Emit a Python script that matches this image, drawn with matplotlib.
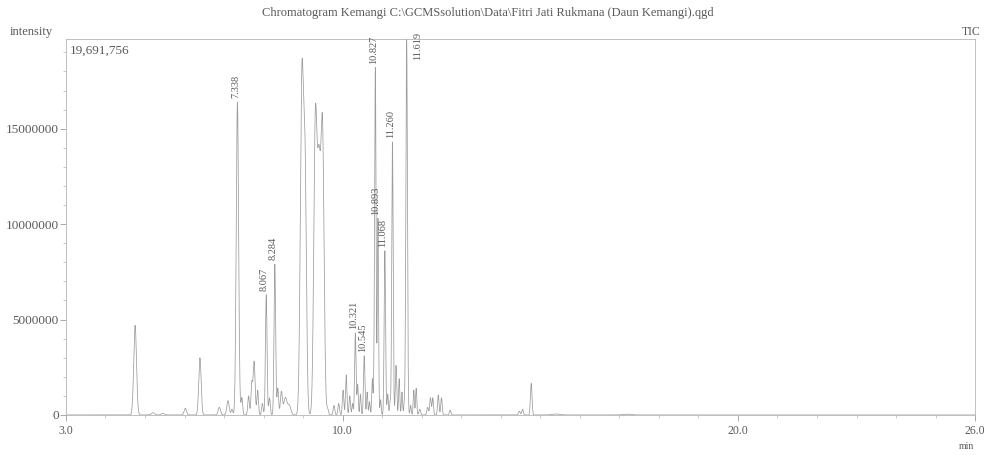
#!/usr/bin/env python3
"""GC-MS total ion chromatogram of kemangi leaf extract, redrawn from the printout."""
import numpy as np
import matplotlib
matplotlib.use("Agg")
import matplotlib.pyplot as plt
from matplotlib.ticker import MultipleLocator

plt.rcParams.update({
    "font.family": "serif",
    "font.serif": ["Liberation Serif", "DejaVu Serif"],
    "font.size": 8,
})

TITLE = r"Chromatogram Kemangi C:\GCMSsolution\Data\Fitri Jati Rukmana (Daun Kemangi).qgd"
MAX_INTENSITY = 19691756

# peak table: retention time (min), apex height (counts), sigma (min)
peak_rt = [4.75, 5.20, 5.45, 6.02, 6.39, 6.88, 7.10, 7.20, 7.338, 7.45,
           7.62, 7.70, 7.76, 7.85, 7.97, 8.067, 8.15, 8.284, 8.36, 8.45,
           8.55, 8.65, 8.97, 9.05, 9.31, 9.40, 9.49, 9.62, 9.78, 9.90, 10.01,
           10.09, 10.18, 10.25, 10.321, 10.38, 10.45, 10.545, 10.62, 10.68, 10.75,
           10.79, 10.827, 10.893, 10.96, 11.068, 11.14, 11.20, 11.260, 11.35, 11.43,
           11.50, 11.56, 11.619, 11.72, 11.80, 11.86, 11.95, 12.15, 12.22, 12.28,
           12.42, 12.50, 12.72, 14.47, 14.55, 14.77, 15.40, 17.20]
peak_height = [4.7e6, 0.12e6, 0.08e6, 0.35e6, 3.0e6, 0.4e6, 0.75e6, 0.3e6, 16.4e6, 0.9e6,
               1.0e6, 1.6e6, 2.8e6, 1.3e6, 0.6e6, 6.3e6, 0.9e6, 7.9e6, 1.4e6, 1.2e6,
               0.9e6, 0.5e6, 17.6e6, 12.0e6, 15.2e6, 11.8e6, 14.7e6, 0.3e6, 0.5e6, 0.6e6, 1.3e6,
               2.1e6, 1.0e6, 0.6e6, 4.3e6, 1.6e6, 1.1e6, 3.1e6, 1.2e6, 0.7e6, 1.9e6,
               1.0e6, 18.2e6, 10.3e6, 0.8e6, 8.6e6, 1.1e6, 0.7e6, 14.3e6, 2.6e6, 1.9e6,
               1.2e6, 0.6e6, 19.69e6, 0.5e6, 1.3e6, 1.4e6, 0.3e6, 0.4e6, 0.9e6, 0.9e6,
               1.05e6, 0.9e6, 0.25e6, 0.2e6, 0.3e6, 1.65e6, 0.05e6, 0.04e6]
peak_sigma = [0.035, 0.04, 0.04, 0.03, 0.03, 0.03, 0.03, 0.02, 0.03, 0.02,
              0.02, 0.02, 0.025, 0.02, 0.02, 0.02, 0.02, 0.02, 0.02, 0.025,
              0.04, 0.04, 0.04, 0.035, 0.04, 0.04, 0.04, 0.02, 0.02, 0.02, 0.018,
              0.018, 0.018, 0.015, 0.018, 0.015, 0.015, 0.018, 0.015, 0.015, 0.015,
              0.012, 0.018, 0.015, 0.015, 0.018, 0.015, 0.015, 0.018, 0.018, 0.015,
              0.015, 0.015, 0.02, 0.015, 0.015, 0.015, 0.02, 0.02, 0.018, 0.018,
              0.018, 0.018, 0.02, 0.02, 0.02, 0.02, 0.1, 0.1]

# peaks the instrument labelled with their retention time
labelled_rt = [7.338, 8.067, 8.284, 10.321, 10.545, 10.827, 10.893, 11.068, 11.260, 11.619]

x_ticks = [3.0, 10.0, 20.0, 26.0]
y_ticks = [0, 5000000, 10000000, 15000000]

# ── Trace ──────────────────────────────────────────────────
t = np.linspace(3.0, 26.0, 23000)
trace = np.zeros_like(t)
for rt, h, s in zip(peak_rt, peak_height, peak_sigma):
    trace += h * np.exp(-0.5 * ((t - rt) / s) ** 2)
trace = np.minimum(trace, MAX_INTENSITY)

line_col = "#9c9c9c"
text_col = "#5a5a5a"

fig = plt.figure(figsize=(9.84, 4.55), dpi=100)
ax = fig.add_axes([0.067, 0.088, 0.924, 0.826])
ax.plot(t, trace, color=line_col, lw=0.55)

ax.set_xlim(3.0, 26.0)
ax.set_ylim(0, MAX_INTENSITY)
ax.set_xticks(x_ticks)
ax.set_xticklabels([f"{v:.1f}" for v in x_ticks])
ax.set_yticks(y_ticks)
ax.set_yticklabels([str(v) for v in y_ticks])
ax.xaxis.set_minor_locator(MultipleLocator(1.0))
ax.yaxis.set_minor_locator(MultipleLocator(1000000))
ax.tick_params(axis="both", which="major", length=4, width=0.6, color="#9a9a9a",
               labelcolor=text_col)
ax.tick_params(axis="y", labelsize=9.5, pad=1)
ax.tick_params(axis="x", labelsize=8.5, pad=3)
ax.tick_params(axis="both", which="minor", length=2, width=0.5, color="#b5b5b5")
for side in ["left", "bottom", "top", "right"]:
    ax.spines[side].set_color("#b5b5b5")
    ax.spines[side].set_linewidth(0.6)

# retention time labels
for rt in labelled_rt:
    h = peak_height[peak_rt.index(rt)]
    if h >= MAX_INTENSITY * 0.99:
        ax.text(rt + 0.28, MAX_INTENSITY * 1.02, f"{rt:.3f}", rotation=90,
                ha="center", va="top", fontsize=7.5, color=text_col)
    else:
        ax.text(rt - 0.05, h + 0.2e6, f"{rt:.3f}", rotation=90,
                ha="center", va="bottom", fontsize=7.5, color=text_col)

ax.text(0.004, 0.985, f"{MAX_INTENSITY:,}", transform=ax.transAxes,
        ha="left", va="top", fontsize=9.5, color=text_col)

fig.text(0.496, 0.972, TITLE, ha="center", va="center", fontsize=9, color=text_col)
fig.text(0.010, 0.930, "intensity", ha="left", va="center", fontsize=9, color=text_col)
fig.text(0.997, 0.930, "TIC", ha="right", va="center", fontsize=8.5, color=text_col)
fig.text(0.990, 0.018, "min", ha="right", va="center", fontsize=7, color=text_col)

fig.savefig("out.png", dpi=100, facecolor="white")
